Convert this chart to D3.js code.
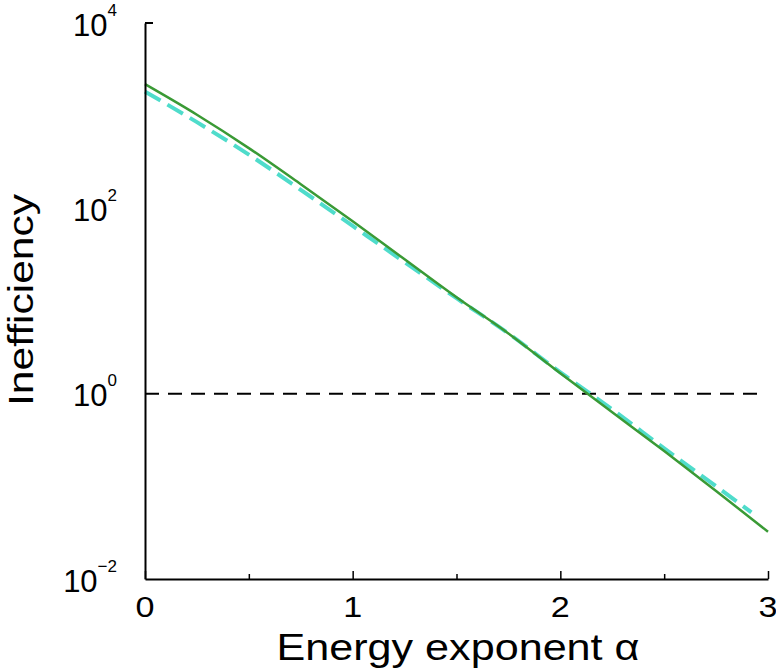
<!DOCTYPE html>
<html lang="en">
<head>
    <meta charset="UTF-8">
    <title>Inefficiency vs energy exponent</title>
    <script src="https://d3js.org/d3.v7.min.js"></script>
    <style>
        body { margin: 0; background: #fff; }
        text { font-family: "Liberation Sans", Arial, sans-serif; fill: #000; }
        .line { fill: none; }
        .green-line { stroke: #3a9a35; stroke-width: 2.5px; }
        .cyan-line { stroke: #4fdccb; stroke-width: 4px; stroke-dasharray: 18 8; }
        .ref-line { stroke: #000; stroke-width: 2px; stroke-dasharray: 14 9; }
    </style>
</head>
<body>
    <svg width="776" height="672"></svg>
    <script>
        // values (alpha, log10 of inefficiency)
        const alphaGreen = [0, 0.25, 0.5, 0.75, 1, 1.25, 1.5, 1.75, 2, 2.25, 2.5, 2.75, 3];
        const logGreen = [3.34, 3.01, 2.65, 2.26, 1.86, 1.45, 1.04, 0.65, 0.22, -0.20, -0.62, -1.05, -1.49];

        const alphaCyan = [0, 0.25, 0.5, 0.75, 1, 1.25, 1.5, 1.75, 2, 2.25, 2.5, 2.75, 2.92];
        const logCyan = [3.26, 2.93, 2.58, 2.20, 1.81, 1.42, 1.03, 0.65, 0.23, -0.17, -0.59, -1.00, -1.28];

        const xTicks = [0, 0.5, 1, 1.5, 2, 2.5, 3];
        const xLabels = [0, 1, 2, 3];
        const yTicks = [1e4, 1e2, 1e0, 1e-2];
        const refValue = 1;

        const green = alphaGreen.map((a, i) => ({ a: a, v: Math.pow(10, logGreen[i]) }));
        const cyan = alphaCyan.map((a, i) => ({ a: a, v: Math.pow(10, logCyan[i]) }));

        const svg = d3.select("svg");
        const plotLeft = 145, plotRight = 768, plotTop = 23, plotBottom = 579;

        const x = d3.scaleLinear().domain([0, 3]).range([plotLeft, plotRight]);
        const y = d3.scaleLog().domain([1e-2, 1e4]).range([plotBottom, plotTop]);

        const line = d3.line()
            .curve(d3.curveMonotoneX)
            .x(d => x(d.a))
            .y(d => y(d.v));

        // reference line at 1
        svg.append("line")
            .attr("class", "ref-line")
            .attr("x1", x(0)).attr("x2", x(3) - 3)
            .attr("y1", y(refValue)).attr("y2", y(refValue));

        svg.append("path")
            .datum(cyan)
            .attr("class", "line cyan-line")
            .attr("d", line);

        svg.append("path")
            .datum(green)
            .attr("class", "line green-line")
            .attr("d", line);

        // x axis, ticks pointing inwards
        const xAxis = svg.append("g")
            .attr("transform", "translate(0," + plotBottom + ")")
            .call(d3.axisTop(x).tickValues(xTicks).tickSizeOuter(0).tickFormat(""));
        xAxis.select(".domain").attr("stroke-width", 2);
        xAxis.selectAll(".tick line")
            .attr("stroke-width", 1.5)
            .attr("y2", d => Number.isInteger(d) ? -8 : -5);

        xAxis.selectAll(".xlab")
            .data(xLabels)
            .enter().append("text")
            .attr("x", d => x(d))
            .attr("y", 38)
            .attr("text-anchor", "middle")
            .attr("textLength", 19)
            .attr("lengthAdjust", "spacingAndGlyphs")
            .style("font-size", "29px")
            .text(d => d);

        // y axis
        const yAxis = svg.append("g")
            .attr("transform", "translate(" + plotLeft + ",0)")
            .call(d3.axisLeft(y).tickValues(yTicks).tickSize(0).tickFormat(""));
        yAxis.select(".domain").attr("stroke-width", 2);

        // small tick at the top of the y axis
        svg.append("line")
            .attr("x1", plotLeft).attr("x2", plotLeft + 8)
            .attr("y1", y(1e4)).attr("y2", y(1e4))
            .attr("stroke", "#000").attr("stroke-width", 2);

        const ylab = yAxis.selectAll(".tick").append("text")
            .attr("x", -28)
            .attr("y", 12)
            .attr("text-anchor", "end")
            .style("font-size", "31px");
        ylab.append("tspan").text("10");
        ylab.append("tspan")
            .attr("dy", -20)
            .style("font-size", "17px")
            .text(d => String(Math.round(Math.log10(d))).replace("-", "\u2212"));

        // axis titles
        svg.append("text")
            .attr("x", 458)
            .attr("y", 660)
            .attr("text-anchor", "middle")
            .attr("textLength", 363)
            .attr("lengthAdjust", "spacingAndGlyphs")
            .style("font-size", "37px")
            .text("Energy exponent \u03b1");

        svg.append("text")
            .attr("transform", "translate(33,300) rotate(-90)")
            .attr("text-anchor", "middle")
            .attr("textLength", 212)
            .attr("lengthAdjust", "spacingAndGlyphs")
            .style("font-size", "35px")
            .text("Inefficiency");
    </script>
</body>
</html>
